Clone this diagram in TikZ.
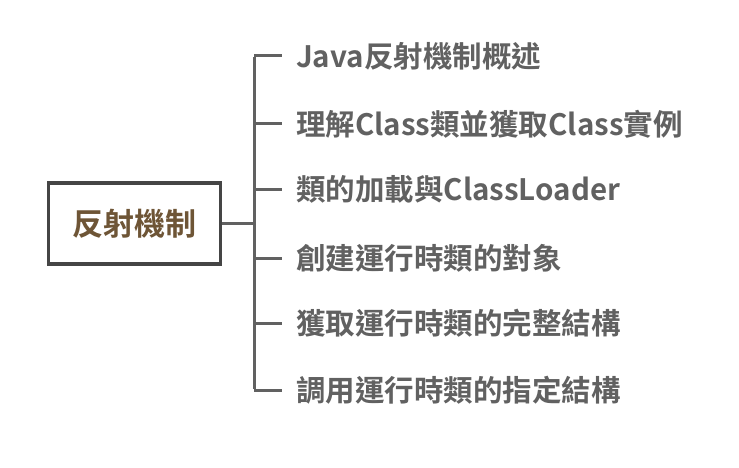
\documentclass[tikz,border=0pt]{standalone}
\usepackage{fontspec}
\newfontfamily\cjk{Noto Sans CJK TC}[BoldFont={* Bold}]
\definecolor{rootbrown}{HTML}{6E5536}
\definecolor{leafgray}{HTML}{616161}
\definecolor{boxgray}{HTML}{454545}
\begin{document}
\begin{tikzpicture}[x=1pt,y=-1pt,
  rootbox/.style={draw=boxgray, line width=3.5pt, minimum width=172pt, minimum height=81pt, inner sep=0pt, font=\cjk\bfseries\fontsize{31}{34}\selectfont, text=rootbrown},
  leaf/.style={anchor=west, inner sep=0pt, font=\cjk\bfseries\fontsize{29.5}{32}\selectfont, text=leafgray},
  conn/.style={draw=leafgray, line width=3pt}]
\useasboundingbox (0,0) rectangle (739,468);
\node[rootbox] (root) at (134.5,223.5) {反射機制};
\coordinate (j) at (254,223.5);
\node[leaf] (a) at (296,56) {Java反射機制概述};
\node[leaf] (b) at (296,124) {理解Class類並獲取Class實例};
\node[leaf] (c) at (296,189) {類的加載與ClassLoader};
\node[leaf] (d) at (296,258) {創建運行時類的對象};
\node[leaf] (e) at (296,323) {獲取運行時類的完整結構};
\node[leaf] (f) at (296,390) {調用運行時類的指定結構};
\draw[conn] (root.east) -- (j);
\draw[conn] ([yshift=-1.5pt]j |- a.west) -- ([yshift=1.5pt]j |- f.west);
\foreach \n in {a,b,c,d,e,f}{
  \draw[conn] (j |- \n.west) -- ([xshift=-14pt]\n.west);
}
\end{tikzpicture}
\end{document}
